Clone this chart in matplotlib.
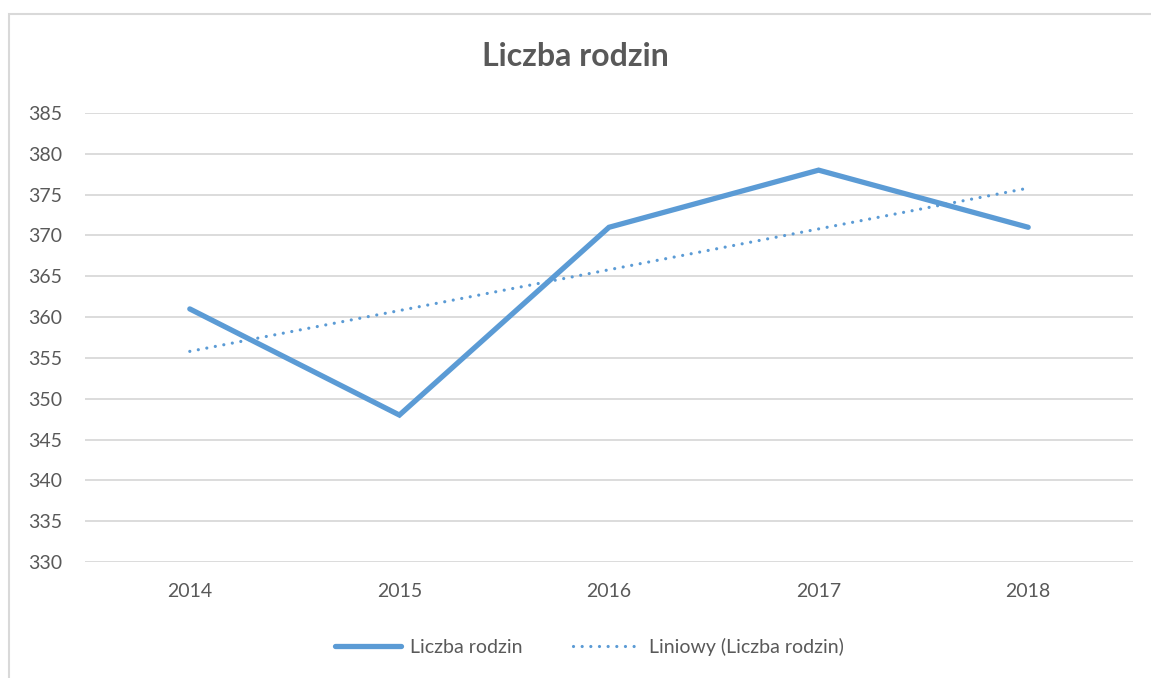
import numpy as np
import matplotlib.pyplot as plt
from matplotlib.patches import Rectangle

plt.rcParams['font.family'] = ['Lato', 'DejaVu Sans']

years = ['2014', '2015', '2016', '2017', '2018']
families = [361, 348, 371, 378, 371]
y_ticks = [330, 335, 340, 345, 350, 355, 360, 365, 370, 375, 380, 385]

blue = '#5B9BD5'
grey_text = '#595959'
grid_col = '#D9D9D9'

x = np.arange(len(years))
slope, intercept = np.polyfit(x, families, 1)
trend = slope * x + intercept

W, H = 1151, 678
fig = plt.figure(figsize=(W / 100, H / 100), dpi=100)
ax = fig.add_axes([85 / W, 1 - 562 / H, (1133 - 85) / W, (562 - 113) / H])

# chart frame (partly outside the picture)
fig.add_artist(Rectangle((8.5 / W, -0.1), 1.2, 1.1 - 13.5 / H, transform=fig.transFigure,
                         fill=False, edgecolor=grid_col, lw=1.5))

ax.plot(x, families, color=blue, lw=3.8, solid_capstyle='round', solid_joinstyle='miter',
        label='Liczba rodzin', zorder=3)
ax.plot(x, trend, color=blue, lw=2.3, linestyle=(0, (0.01, 2.7)), dash_capstyle='round',
        label='Liniowy (Liczba rodzin)', zorder=4)

ax.set_xlim(-0.5, len(years) - 0.5)
ax.set_ylim(330, 385)
ax.set_yticks(y_ticks)
ax.set_xticks(x)
ax.set_xticklabels(years)
ax.grid(axis='y', color=grid_col, lw=1.3)
ax.set_axisbelow(True)
for s in ax.spines.values():
    s.set_visible(False)
ax.tick_params(axis='both', length=0, labelsize=14, colors=grey_text)
ax.tick_params(axis='y', pad=16.5)
ax.tick_params(axis='x', pad=15)

fig.text(0.5, 1 - 57 / H, 'Liczba rodzin', ha='center', va='center', fontsize=23,
         fontweight='bold', color=grey_text)

fig.legend(loc='center', bbox_to_anchor=(0.512, 1 - 647 / H), ncol=2, frameon=False,
           fontsize=14, labelcolor=grey_text, handlelength=3.4, handletextpad=0.5,
           columnspacing=2.6)

fig.savefig('out.png', dpi=100, facecolor='white')
